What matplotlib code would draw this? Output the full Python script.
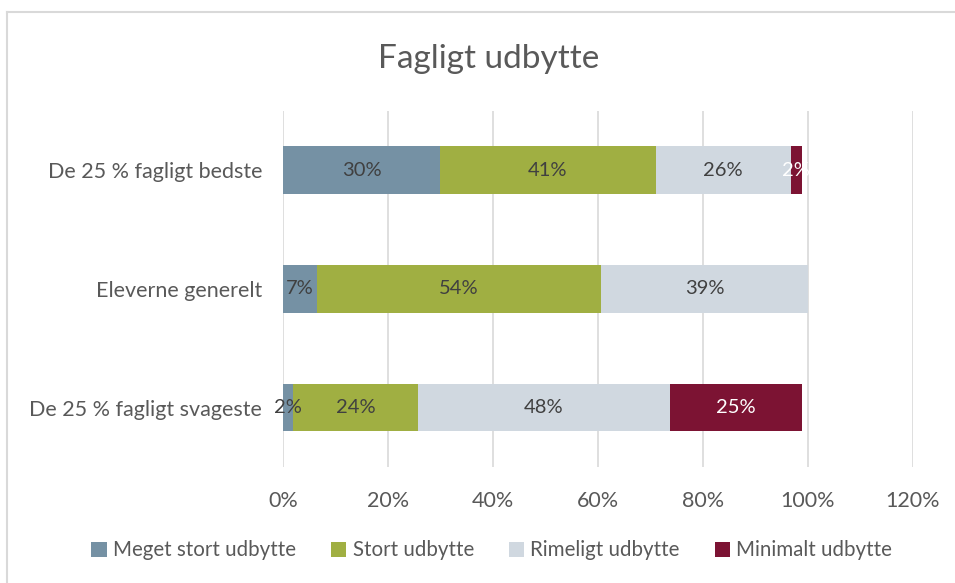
import matplotlib.pyplot as plt
from matplotlib.lines import Line2D
from matplotlib.patches import Patch

# Data
categories = ["De 25 % fagligt svageste", "Eleverne generelt", "De 25 % fagligt bedste"]
series_names = ["Meget stort udbytte", "Stort udbytte", "Rimeligt udbytte", "Minimalt udbytte"]
meget_stort = [1.9, 6.5, 29.9]
stort = [23.8, 54.1, 41.1]
rimeligt = [48.0, 39.4, 25.7]
minimalt = [25.2, 0.0, 2.1]
labels = [
    ["2%", "7%", "30%"],
    ["24%", "54%", "41%"],
    ["48%", "39%", "26%"],
    ["25%", "", "2%"],
]
xticks = [0, 20, 40, 60, 80, 100, 120]

colors = ["#7591A4", "#A0AF42", "#D0D8E0", "#7C1333"]
label_colors = ["#404040", "#404040", "#404040", "white"]
text_grey = "#595959"

plt.rcParams["font.family"] = ["Lato", "DejaVu Sans"]


def main() -> None:
    fig = plt.figure(figsize=(9.55, 5.83), dpi=100)
    ax = fig.add_axes([0.2963, 0.199, 0.6597, 0.611])

    values = [meget_stort, stort, rimeligt, minimalt]
    y = list(range(len(categories)))
    left = [0.0] * len(categories)
    for i, vals in enumerate(values):
        bars = ax.barh(y, vals, left=left, height=0.4, color=colors[i], zorder=2)
        for j, b in enumerate(bars):
            if labels[i][j]:
                ax.text(b.get_x() + b.get_width() / 2, b.get_y() + b.get_height() / 2,
                        labels[i][j], ha="center", va="center", fontsize=14.5,
                        color=label_colors[i], zorder=3)
        left = [l + v for l, v in zip(left, vals)]

    ax.set_xlim(0, 120)
    ax.set_ylim(-0.5, 2.5)
    ax.set_xticks(xticks)
    ax.set_xticklabels([f"{t}%" for t in xticks])
    ax.set_yticks(y)
    ax.set_yticklabels(categories)
    ax.tick_params(axis="both", length=0, labelsize=15.5, labelcolor=text_grey)
    ax.tick_params(axis="x", pad=17)
    ax.tick_params(axis="y", pad=15)
    ax.grid(axis="x", color="#D9D9D9", linewidth=1.2, zorder=0)
    for s in ax.spines.values():
        s.set_visible(False)

    fig.text(0.512, 0.898, "Fagligt udbytte", ha="center", va="center",
             fontsize=24, color=text_grey)

    handles = [Patch(facecolor=c, edgecolor="none") for c in colors]
    fig.legend(handles, series_names, loc="center", bbox_to_anchor=(0.515, 0.056),
               ncol=4, frameon=False, fontsize=14.8, labelcolor=text_grey,
               handlelength=0.75, handleheight=0.75, handletextpad=0.3, columnspacing=1.7)

    # chart border (top and left visible)
    fig.add_artist(Line2D([0.0073, 1.0], [0.979, 0.979], color="#D9D9D9", linewidth=1.5))
    fig.add_artist(Line2D([0.0073, 0.0073], [0.0, 0.979], color="#D9D9D9", linewidth=1.5))

    fig.savefig("out.png", dpi=100)


if __name__ == "__main__":
    main()
